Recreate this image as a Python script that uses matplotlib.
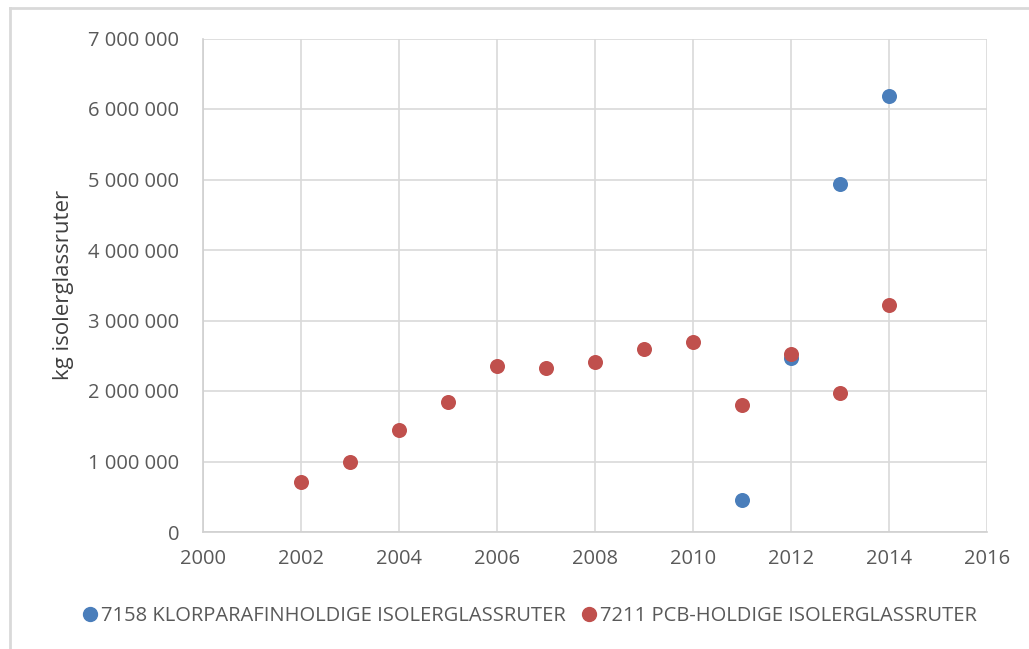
import matplotlib
matplotlib.use("Agg")
import matplotlib.pyplot as plt
from matplotlib.ticker import FuncFormatter
from matplotlib.lines import Line2D

# Data
years_klor = [2011, 2012, 2013, 2014]
kg_klor = [450000, 2470000, 4940000, 6180000]

years_pcb = [2002, 2003, 2004, 2005, 2006, 2007, 2008, 2009, 2010, 2011, 2012, 2013, 2014]
kg_pcb = [710000, 1000000, 1440000, 1840000, 2350000, 2320000, 2410000, 2590000,
          2690000, 1800000, 2530000, 1970000, 3220000]

label_klor = "7158 KLORPARAFINHOLDIGE ISOLERGLASSRUTER"
label_pcb = "7211 PCB-HOLDIGE ISOLERGLASSRUTER"
ylabel = "kg isolerglassruter"

blue = "#4a7ebb"
red = "#c0504d"
grid = "#d9d9d9"
txt = "#595959"

plt.rcParams["font.family"] = ["Open Sans", "DejaVu Sans"]

fig = plt.figure(figsize=(10.29, 6.49), dpi=100)
ax = fig.add_axes([203 / 1029, 1 - 532 / 649, (987 - 203) / 1029, (532 - 38.5) / 649])

ax.scatter(years_klor, kg_klor, s=117, color=blue, zorder=3, linewidths=0)
ax.scatter(years_pcb, kg_pcb, s=117, color=red, zorder=4, linewidths=0)

ax.set_xlim(2000, 2016)
ax.set_ylim(0, 7000000)
ax.set_xticks(range(2000, 2017, 2))
ax.set_yticks(range(0, 7000001, 1000000))
ax.yaxis.set_major_formatter(FuncFormatter(lambda v, p: f"{int(v):,}".replace(",", " ")))

ax.grid(True, color=grid, linewidth=1.2, zorder=0)
ax.set_axisbelow(True)
for side in ["top", "right"]:
    ax.spines[side].set_visible(False)
for side in ["left", "bottom"]:
    ax.spines[side].set_color("#d0d0d0")
    ax.spines[side].set_linewidth(1.2)

ax.tick_params(length=0, labelsize=14.5, labelcolor=txt, pad=17)
ax.tick_params(axis="x", pad=12)

ax.set_ylabel(ylabel, fontsize=16, color="#404040", labelpad=10)

handles = [
    Line2D([], [], marker="o", linestyle="none", color=blue, markersize=10),
    Line2D([], [], marker="o", linestyle="none", color=red, markersize=10),
]
fig.legend(handles, [label_klor, label_pcb], loc="center", bbox_to_anchor=(0.514, 1 - 616 / 649),
           ncol=2, frameon=False, fontsize=14.5, labelcolor=txt, handletextpad=0.1,
           columnspacing=0.7, handlelength=0.9)

# outer chart border (left and top visible)
fig.add_artist(Line2D([10 / 1029, 10 / 1029], [0, 1 - 8 / 649], transform=fig.transFigure,
                      color=grid, linewidth=2))
fig.add_artist(Line2D([10 / 1029, 1], [1 - 8 / 649, 1 - 8 / 649], transform=fig.transFigure,
                      color=grid, linewidth=2))

fig.savefig("out.png", dpi=100)
